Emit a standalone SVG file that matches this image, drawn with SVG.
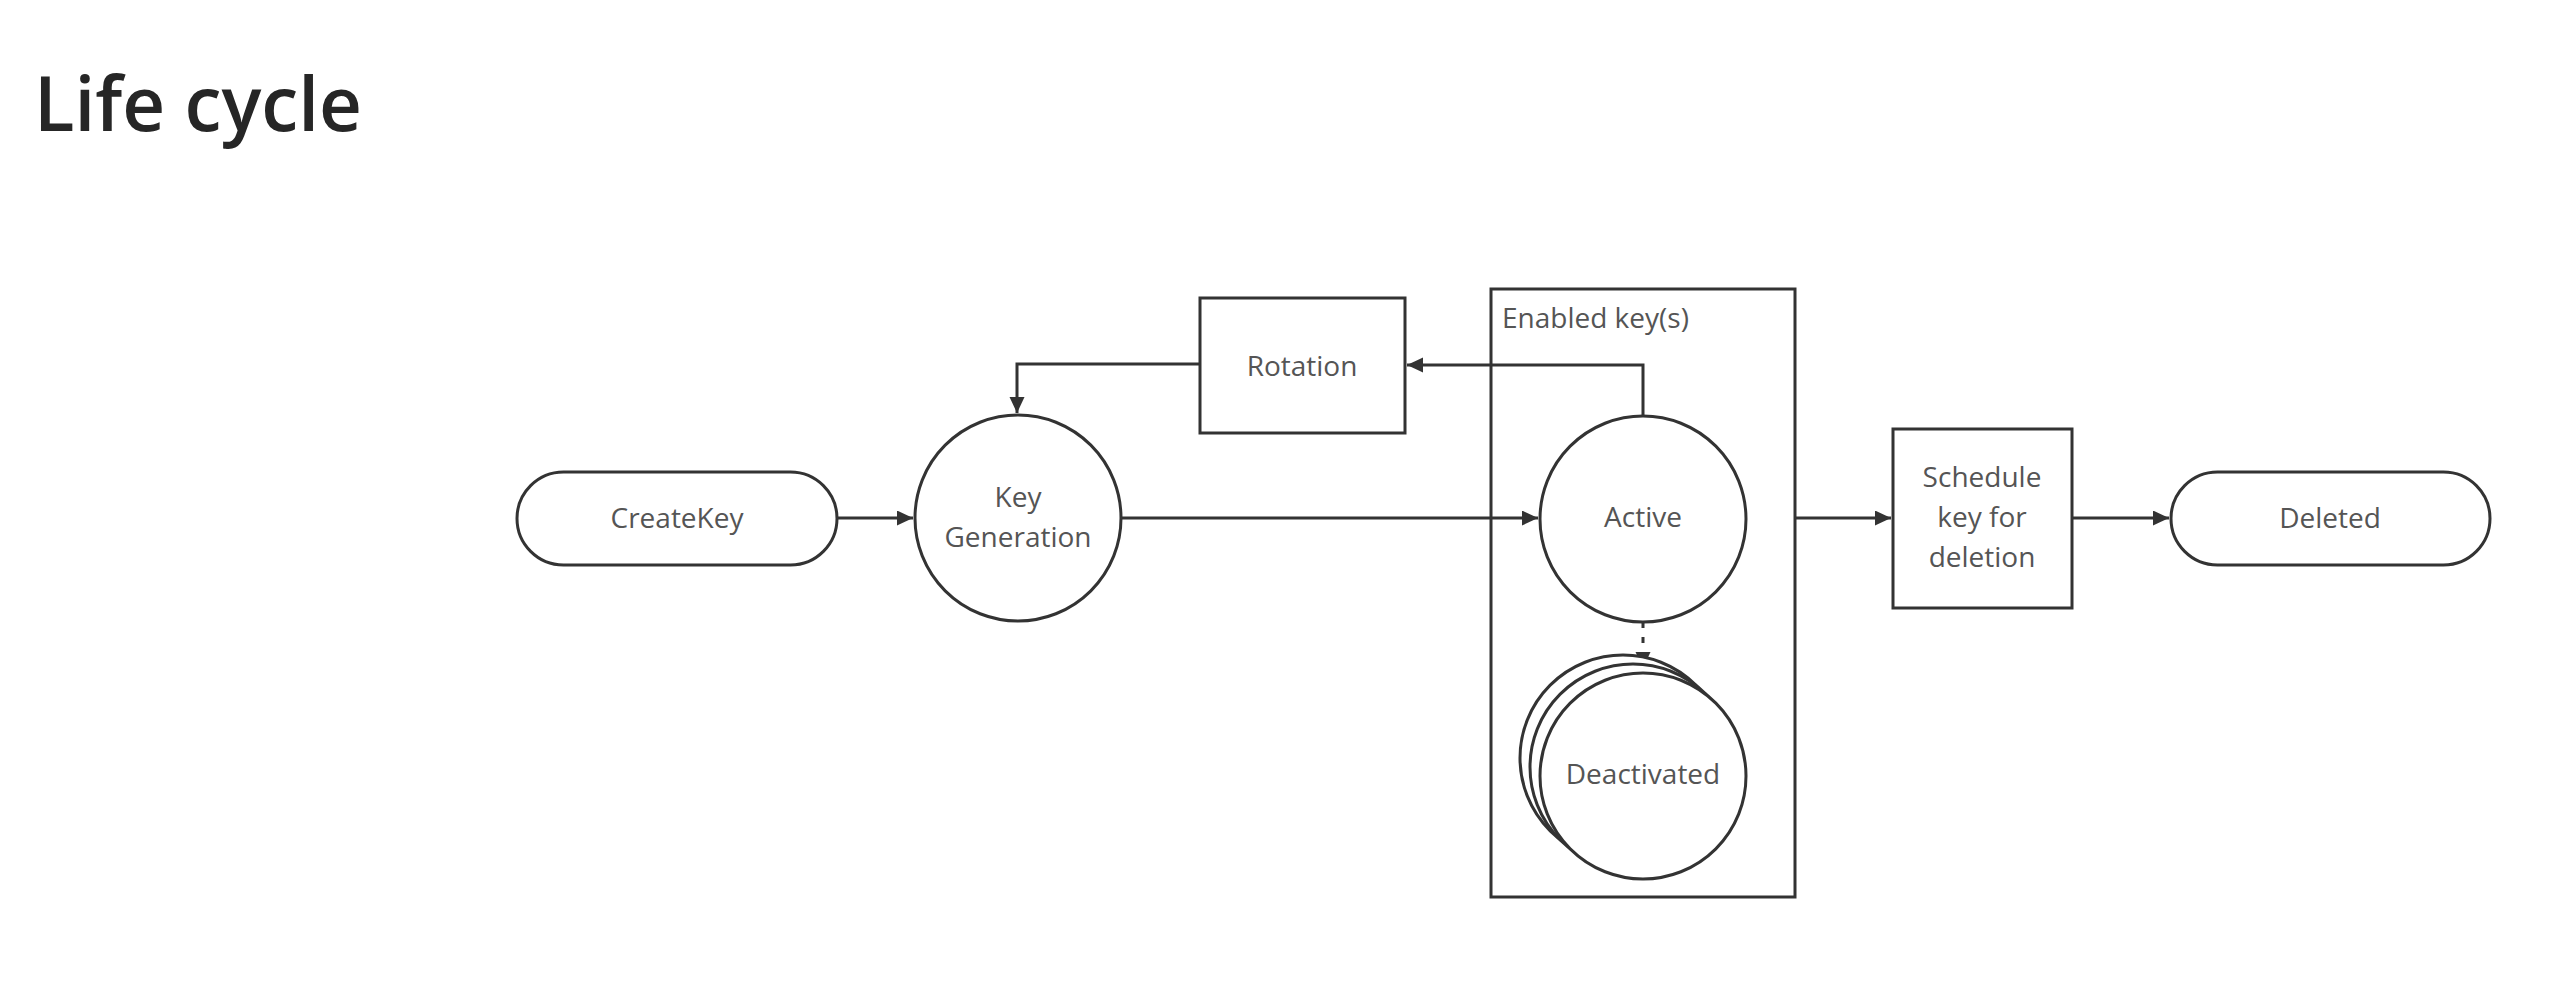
<svg xmlns="http://www.w3.org/2000/svg" width="2566" height="982" viewBox="0 0 2566 982">
<style>
.shape{fill:#fff;stroke:#333;stroke-width:3}
.lbl{font-family:"Open Sans","Liberation Sans",sans-serif;font-size:28px;fill:#555;text-anchor:middle}
.conn{fill:none;stroke:#333;stroke-width:3}
.title{font-family:"Open Sans","Liberation Sans",sans-serif;font-size:76px;font-weight:600;fill:#262626}
</style>
<defs>
<marker id="arr" markerUnits="userSpaceOnUse" markerWidth="18" markerHeight="16" refX="16" refY="7.5" orient="auto">
<path d="M0,0 L16,7.5 L0,15 z" fill="#333"/>
</marker>
</defs>
<rect width="2566" height="982" fill="#fff"/>
<text class="title" x="34" y="131" textLength="328" lengthAdjust="spacingAndGlyphs">Life cycle</text>

<g id="enabled-keys">
<rect class="shape" x="1491" y="289" width="304" height="608" fill="none"/>
<text class="lbl" x="1502" y="328" style="text-anchor:start">Enabled key(s)</text>
</g>

<g id="connectors">
<path class="conn" d="M837,518 H913" marker-end="url(#arr)"/>
<path class="conn" d="M1122,518 H1538" marker-end="url(#arr)"/>
<path class="conn" d="M1643,416 V365 H1407" marker-end="url(#arr)"/>
<path class="conn" d="M1200,364 H1017 V413" marker-end="url(#arr)"/>
<path class="conn" d="M1795,518 H1891" marker-end="url(#arr)"/>
<path class="conn" d="M2072,518 H2169" marker-end="url(#arr)"/>
<path class="conn" d="M1643,622 V668" stroke-dasharray="6 9" marker-end="url(#arr)"/>
</g>

<g id="createkey">
<rect class="shape" x="517" y="472" width="320" height="93" rx="46.5"/>
<text class="lbl" x="677" y="528">CreateKey</text>
</g>

<g id="key-generation">
<circle class="shape" cx="1018" cy="518" r="103"/>
<text class="lbl" x="1018" y="507">Key</text>
<text class="lbl" x="1018" y="547">Generation</text>
</g>

<g id="rotation">
<rect class="shape" x="1200" y="298" width="205" height="135"/>
<text class="lbl" x="1302" y="376">Rotation</text>
</g>

<g id="active">
<circle class="shape" cx="1643" cy="519" r="103"/>
<text class="lbl" x="1643" y="527">Active</text>
</g>

<g id="deactivated">
<circle class="shape" cx="1623" cy="758" r="103"/>
<circle class="shape" cx="1633" cy="767" r="103"/>
<circle class="shape" cx="1643" cy="776" r="103"/>
<text class="lbl" x="1643" y="784">Deactivated</text>
</g>

<g id="schedule">
<rect class="shape" x="1893" y="429" width="179" height="179"/>
<text class="lbl" x="1982" y="487">Schedule</text>
<text class="lbl" x="1982" y="527">key for</text>
<text class="lbl" x="1982" y="567">deletion</text>
</g>

<g id="deleted">
<rect class="shape" x="2171" y="472" width="319" height="93" rx="46.5"/>
<text class="lbl" x="2330" y="528">Deleted</text>
</g>
</svg>
